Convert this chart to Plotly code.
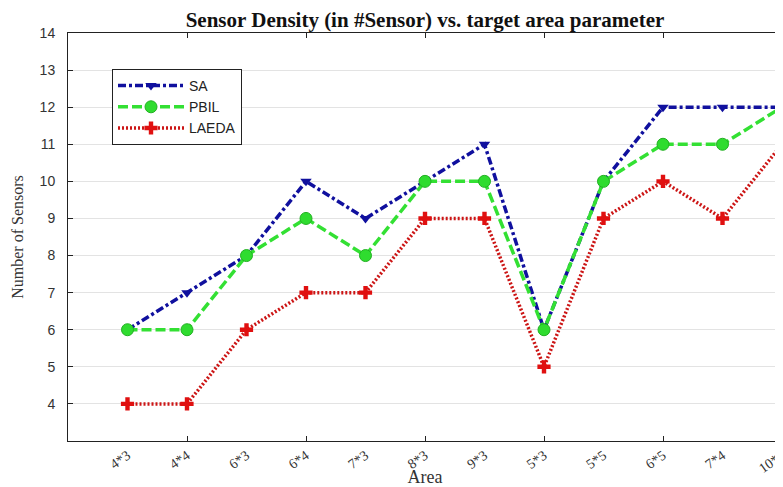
import plotly.graph_objects as go

categories = ["4*3", "4*4", "6*3", "6*4", "7*3", "8*3", "9*3", "5*3", "5*5", "6*5", "7*4", "10*4"]
sa = [6, 7, 8, 10, 9, 10, 11, 6, 10, 12, 12, 12]
pbil = [6, 6, 8, 9, 8, 10, 10, 6, 10, 11, 11, 12]
laeda = [4, 4, 6, 7, 7, 9, 9, 5, 9, 10, 9, 11]
y_ticks = list(range(4, 15))

x = list(range(1, len(categories) + 1))
x_major = [v for v in x if v % 2 == 0]

# page body has an 8px margin, so the figure is sized to the visible area
W, H = 775, 479
L, R, T, B = 60, 1, 25, 46
pw = W - L - R
ph = H - T - B

fig = go.Figure()
fig.add_trace(go.Scatter(
    x=x, y=sa, name="SA", mode="lines+markers",
    line=dict(color="#10109e", width=3.5, dash="8px,3px,3px,3px"),
    marker=dict(symbol="triangle-down", size=10, color="#10109e"),
))
fig.add_trace(go.Scatter(
    x=x, y=pbil, name="PBIL", mode="lines+markers",
    line=dict(color="#33e033", width=3.5, dash="10px,4px"),
    marker=dict(symbol="circle", size=12, color="#2fdc2f",
                line=dict(color="#22b022", width=1)),
))
fig.add_trace(go.Scatter(
    x=x, y=laeda, name="LAEDA", mode="lines+markers",
    line=dict(color="#cc1515", width=3.5, dash="2px,2px"),
    marker=dict(symbol="cross", size=11, color="#e01010"),
))
# invisible trace to anchor the tick-mark axis
fig.add_trace(go.Scatter(x=[0, 12], y=[3, 3], xaxis="x2", mode="lines",
                         line=dict(width=0), showlegend=False, hoverinfo="skip"))

fig.update_layout(
    width=W, height=H,
    margin=dict(l=L, r=R, t=T, b=B),
    paper_bgcolor="white", plot_bgcolor="white",
    title=dict(text="<b>Sensor Density (in #Sensor) vs. target area parameter</b>",
               x=(L + pw / 2) / W, xanchor="center",
               y=1 - 12 / H, yanchor="middle", yref="container",
               font=dict(family="Liberation Serif", size=21, color="#111111")),
    xaxis=dict(
        range=[0, 12], tickmode="array", tickvals=x, ticktext=categories,
        tickangle=-35, ticks="", showgrid=False, zeroline=False,
        showline=True, linecolor="#222222", linewidth=1, mirror=True,
        automargin=False, ticklabelstandoff=0, ticklabeloverflow="allow",
        tickfont=dict(family="Liberation Serif", size=14, color="#333333"),
        title=dict(text="Area", standoff=2,
                   font=dict(family="Liberation Serif", size=18, color="#333333")),
    ),
    xaxis2=dict(
        range=[0, 12], overlaying="x", side="bottom", anchor="y",
        tickmode="array", tickvals=x_major, ticks="inside", ticklen=5,
        tickcolor="#222222", showticklabels=False, showgrid=False,
        zeroline=False, showline=False, mirror="ticks", automargin=False,
    ),
    yaxis=dict(
        range=[3, 14], tickmode="array", tickvals=y_ticks,
        ticks="inside", ticklen=5, tickcolor="#222222",
        showgrid=True, gridcolor="#e3e3e3", gridwidth=1, zeroline=False,
        showline=True, linecolor="#222222", linewidth=1, mirror="ticks",
        automargin=False, ticklabelstandoff=9,
        tickfont=dict(family="Liberation Sans", size=14, color="#333333"),
        title=dict(text="Number of Sensors", standoff=12,
                   font=dict(family="Liberation Serif", size=16, color="#333333")),
    ),
    legend=dict(
        x=(104 - L) / pw, y=1 - (61 - T) / ph, xanchor="left", yanchor="top",
        bgcolor="white", bordercolor="#222222", borderwidth=1,
        font=dict(family="Liberation Sans", size=14, color="#222222"),
        tracegroupgap=0, itemwidth=66,
    ),
    showlegend=True,
)

fig.write_html("out.html")
